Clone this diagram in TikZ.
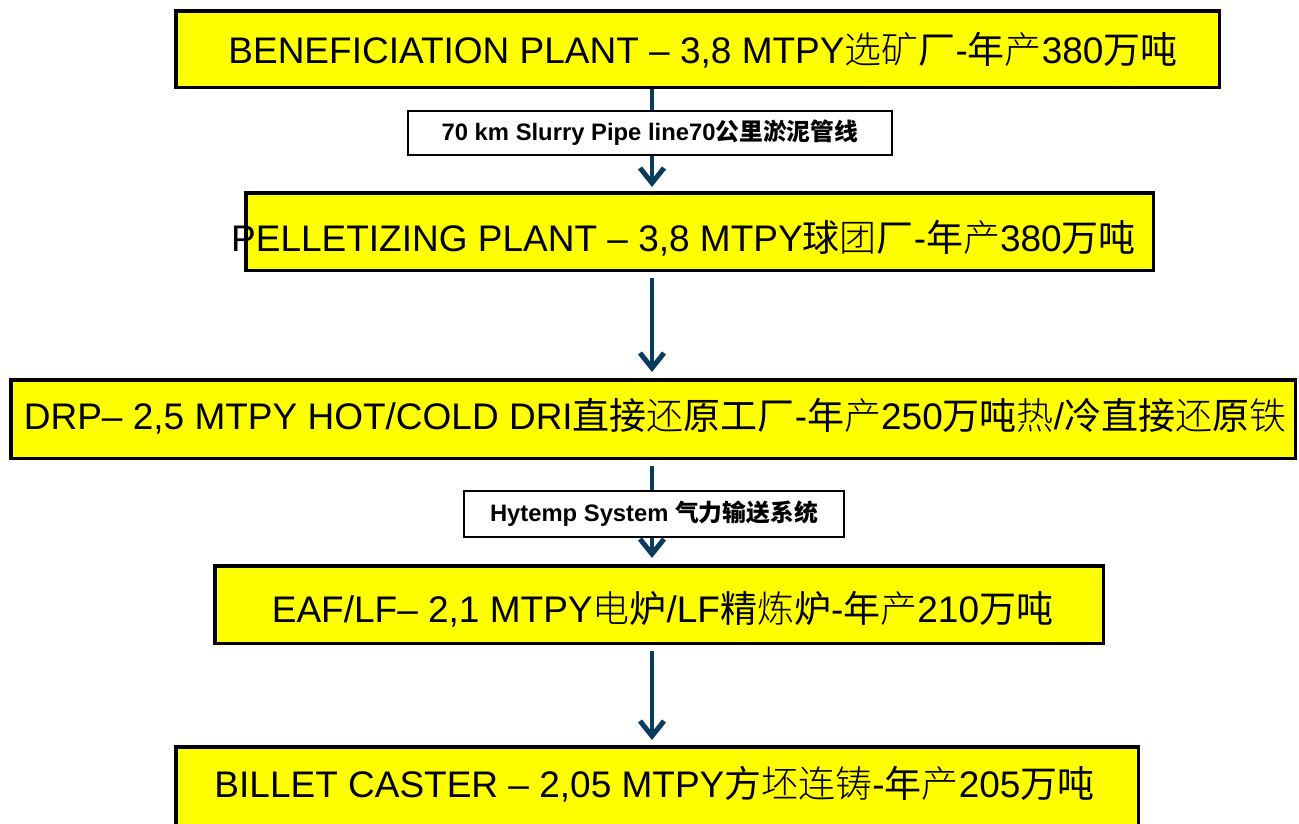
\documentclass[tikz,border=0pt]{standalone}
\usepackage{fontspec}
\setmainfont{Liberation Sans}
\newfontfamily\cjkm{Noto Sans CJK SC}
\newfontfamily\cjkl{Noto Sans CJK SC Light}
\newcommand\zm[1]{{\cjkm #1}}
\newcommand\zl[1]{{\cjkl #1}}
\usetikzlibrary{arrows.meta}
\definecolor{arrowblue}{RGB}{12,60,92}
\definecolor{boxyellow}{RGB}{255,255,0}
\tikzset{
  stagebox/.style={draw=black, line width=3.5pt, fill=boxyellow, inner sep=0pt},
  stagetext/.style={anchor=base, inner sep=0pt, font=\fontsize{37}{44}\selectfont},
  tagbox/.style={draw=black, line width=2pt, fill=white, inner sep=0pt,
    font=\fontsize{23.8}{28}\selectfont\bfseries},
  flow/.style={draw=arrowblue, line width=4.5pt,
    -{Straight Barb[length=15pt,width=24pt,line width=5pt]}}
}
\begin{document}
\begin{tikzpicture}[x=1pt,y=-1pt]
\useasboundingbox (0,0) rectangle (1299,823);
% stage boxes
\node[stagebox, minimum width=1043.5pt, minimum height=76.5pt] (b1) at (697.5,49) {};
\node[stagebox, minimum width=907.5pt, minimum height=77.5pt] (b2) at (699.5,231.5) {};
\node[stagebox, minimum width=1284.5pt, minimum height=78.5pt] (b3) at (653,419) {};
\node[stagebox, minimum width=888.5pt, minimum height=77.5pt] (b4) at (659,604.5) {};
\node[stagebox, minimum width=962.5pt, minimum height=78.5pt] (b5) at (657,786) {};
% stage texts
\node[stagetext] (t1) at (703,63.5) {BENEFICIATION PLANT \textendash{} 3,8 MTPY\zl{选矿}\zm{厂}-\zm{年}\zl{产}380\zm{万吨}};
\node[stagetext] (t2) at (683.5,251) {PELLETIZING PLANT \textendash{} 3,8 MTPY\zm{球}\zl{团}\zm{厂}-\zm{年}\zl{产}380\zm{万吨}};
\node[stagetext] (t3) at (655,429) {DRP\textendash{} 2,5 MTPY HOT/COLD DRI\zm{直接}\zl{还}\zm{原工厂}-\zm{年}\zl{产}250\zm{万吨}\zl{热}/\zm{冷直接}\zl{还}\zm{原}\zl{铁}};
\node[stagetext] (t4) at (662.5,622) {EAF/LF\textendash{} 2,1 MTPY\zl{电}\zm{炉}/LF\zm{精}\zl{炼}\zm{炉}-\zm{年}\zl{产}210\zm{万吨}};
\node[stagetext] (t5) at (654.5,797) {BILLET CASTER \textendash{} 2,05 MTPY\zm{方}\zl{坯连铸}-\zm{年}\zl{产}205\zm{万吨}};
% arrows
\coordinate (ax) at (652,0);
\draw[flow, shorten >=4pt] (b1.south -| ax) -- (b2.north -| ax);
\draw[flow, shorten <=6pt, shorten >=6pt] (b2.south -| ax) -- (b3.north -| ax);
\draw[flow, shorten <=6pt, shorten >=6pt] (b3.south -| ax) -- (b4.north -| ax);
\draw[flow, shorten <=6pt, shorten >=5pt] (b4.south -| ax) -- (b5.north -| ax);
% transport labels
\node[tagbox, minimum width=484pt, minimum height=44pt] (l1) at (650,133) {70 km Slurry Pipe line70{\cjkm\bfseries 公里淤泥管线}};
\node[tagbox, minimum width=380pt, minimum height=46pt] (l2) at (654,514) {Hytemp System {\cjkm\bfseries 气力输送系统}};
\end{tikzpicture}
\end{document}
